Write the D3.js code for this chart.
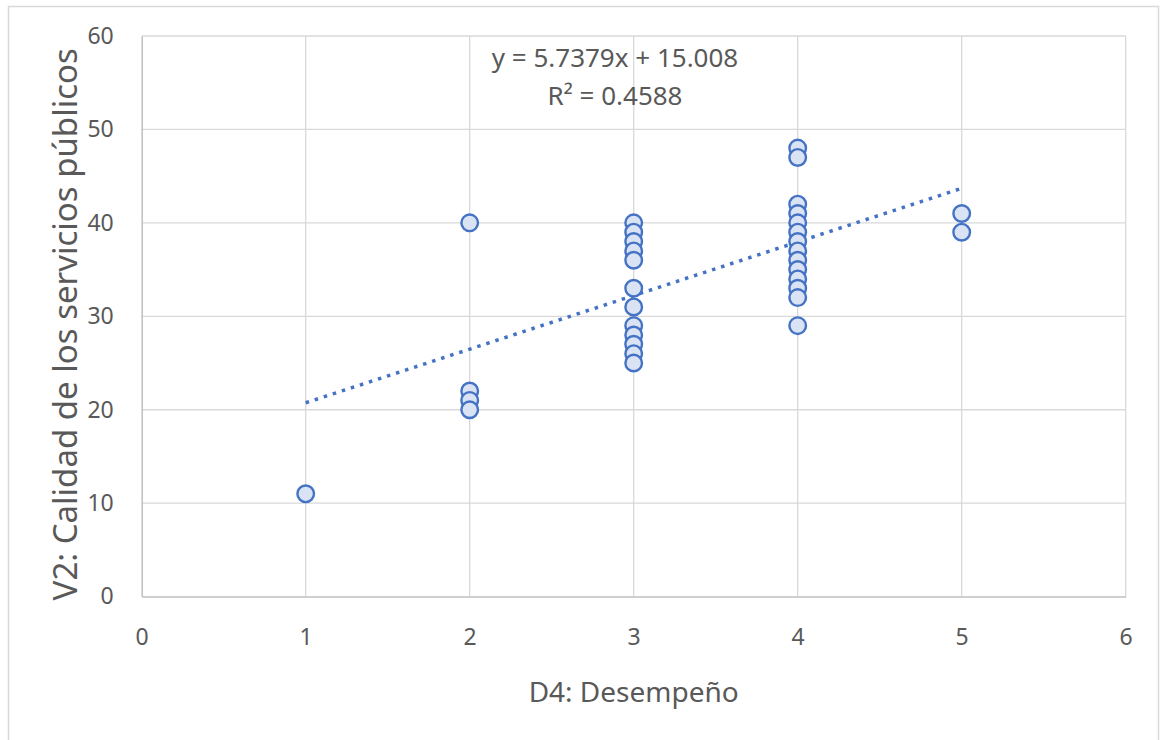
<!DOCTYPE html>
<html>
<head>
<meta charset="utf-8">
<script src="https://cdn.jsdelivr.net/npm/d3@7"></script>
<style>
  body { margin: 0; background: #fff; }
  text { font-family: "Noto Sans", sans-serif; fill: #595959; }
</style>
</head>
<body>
<div id="chart"></div>
<script>
// D4: Desempeño (x) vs V2: Calidad de los servicios públicos (y)
const xVals = [1, 2, 2, 2, 2,
  3, 3, 3, 3, 3, 3, 3, 3, 3, 3, 3, 3,
  4, 4, 4, 4, 4, 4, 4, 4, 4, 4, 4, 4, 4, 4,
  5, 5];
const yVals = [11, 40, 22, 21, 20,
  40, 39, 38, 37, 36, 33, 31, 29, 28, 27, 26, 25,
  48, 47, 42, 41, 40, 39, 38, 37, 36, 35, 34, 33, 32, 29,
  41, 39];
const xTicks = [0, 1, 2, 3, 4, 5, 6];
const yTicks = [0, 10, 20, 30, 40, 50, 60];
const slope = 5.7379, intercept = 15.008;
const eqLines = ["y = 5.7379x + 15.008", "R² = 0.4588"];

let width = 1162,
    height = 740;

const margin = { left: 141.7, right: 36.3, top: 36, bottom: 143.4 };

const svg = d3.select("#chart").append("svg")
      .attr("width", width)
      .attr("height", height);

svg.append("rect")
  .attr("x", 8.5).attr("y", 6.5)
  .attr("width", 1150).attr("height", 740)
  .attr("fill", "none")
  .attr("stroke", "#d9d9d9")
  .attr("stroke-width", 1.5);

let x = d3.scaleLinear().domain([0, 6]).range([margin.left, width - margin.right]);
let y = d3.scaleLinear().domain([0, 60]).range([height - margin.bottom, margin.top]);

// gridlines
svg.append("g").selectAll("line.h")
  .data(yTicks.filter(d => d > 0))
  .enter().append("line")
  .attr("x1", x(0)).attr("x2", x(6))
  .attr("y1", d => y(d)).attr("y2", d => y(d))
  .attr("stroke", "#d9d9d9").attr("stroke-width", 1.3);

svg.append("g").selectAll("line.v")
  .data(xTicks.filter(d => d > 0))
  .enter().append("line")
  .attr("x1", d => x(d)).attr("x2", d => x(d))
  .attr("y1", y(0)).attr("y2", y(60))
  .attr("stroke", "#d9d9d9").attr("stroke-width", 1.3);

// axes
const xAxis = svg.append("g")
  .attr("transform", "translate(0," + y(0) + ")")
  .call(d3.axisBottom(x).tickValues(xTicks).tickFormat(d3.format("d")).tickSize(0).tickPadding(32));
xAxis.select(".domain").attr("stroke", "#bfbfbf").attr("stroke-width", 1.5);
xAxis.selectAll("text").attr("font-size", 23).attr("fill", "#595959");

const yAxis = svg.append("g")
  .attr("transform", "translate(" + x(0) + ",0)")
  .call(d3.axisLeft(y).tickValues(yTicks).tickFormat(d3.format("d")).tickSize(0).tickPadding(28));
yAxis.select(".domain").attr("stroke", "#bfbfbf").attr("stroke-width", 1.5);
yAxis.selectAll("text").attr("font-size", 23).attr("fill", "#595959");

svg.selectAll(".tick text").attr("font-family", null);

// trendline
svg.append("line")
  .attr("x1", x(1)).attr("y1", y(slope * 1 + intercept))
  .attr("x2", x(5)).attr("y2", y(slope * 5 + intercept))
  .attr("stroke", "#4472c4")
  .attr("stroke-width", 3.5)
  .attr("stroke-dasharray", "3.5,6");

// points
const pts = xVals.map((d, i) => ({ x: d, y: yVals[i] }));
svg.append("g").selectAll("circle")
  .data(pts)
  .enter().append("circle")
  .attr("cx", d => x(d.x))
  .attr("cy", d => y(d.y))
  .attr("r", 8.3)
  .attr("fill", "#dae3f3")
  .attr("stroke", "#4472c4")
  .attr("stroke-width", 2.4);

// equation
svg.append("g").selectAll("text")
  .data(eqLines)
  .enter().append("text")
  .attr("x", 615)
  .attr("y", (d, i) => 67 + i * 38)
  .attr("text-anchor", "middle")
  .attr("font-size", 26)
  .text(d => d);

// axis titles
svg.append("text")
  .attr("x", (x(0) + x(6)) / 2)
  .attr("y", 702)
  .attr("text-anchor", "middle")
  .attr("font-size", 28)
  .text("D4: Desempeño");

svg.append("text")
  .attr("transform", "translate(77," + ((y(0) + y(60)) / 2 + 8) + ") rotate(-90)")
  .attr("text-anchor", "middle")
  .attr("font-size", 33)
  .text("V2: Calidad de los servicios públicos");
</script>
</body>
</html>
